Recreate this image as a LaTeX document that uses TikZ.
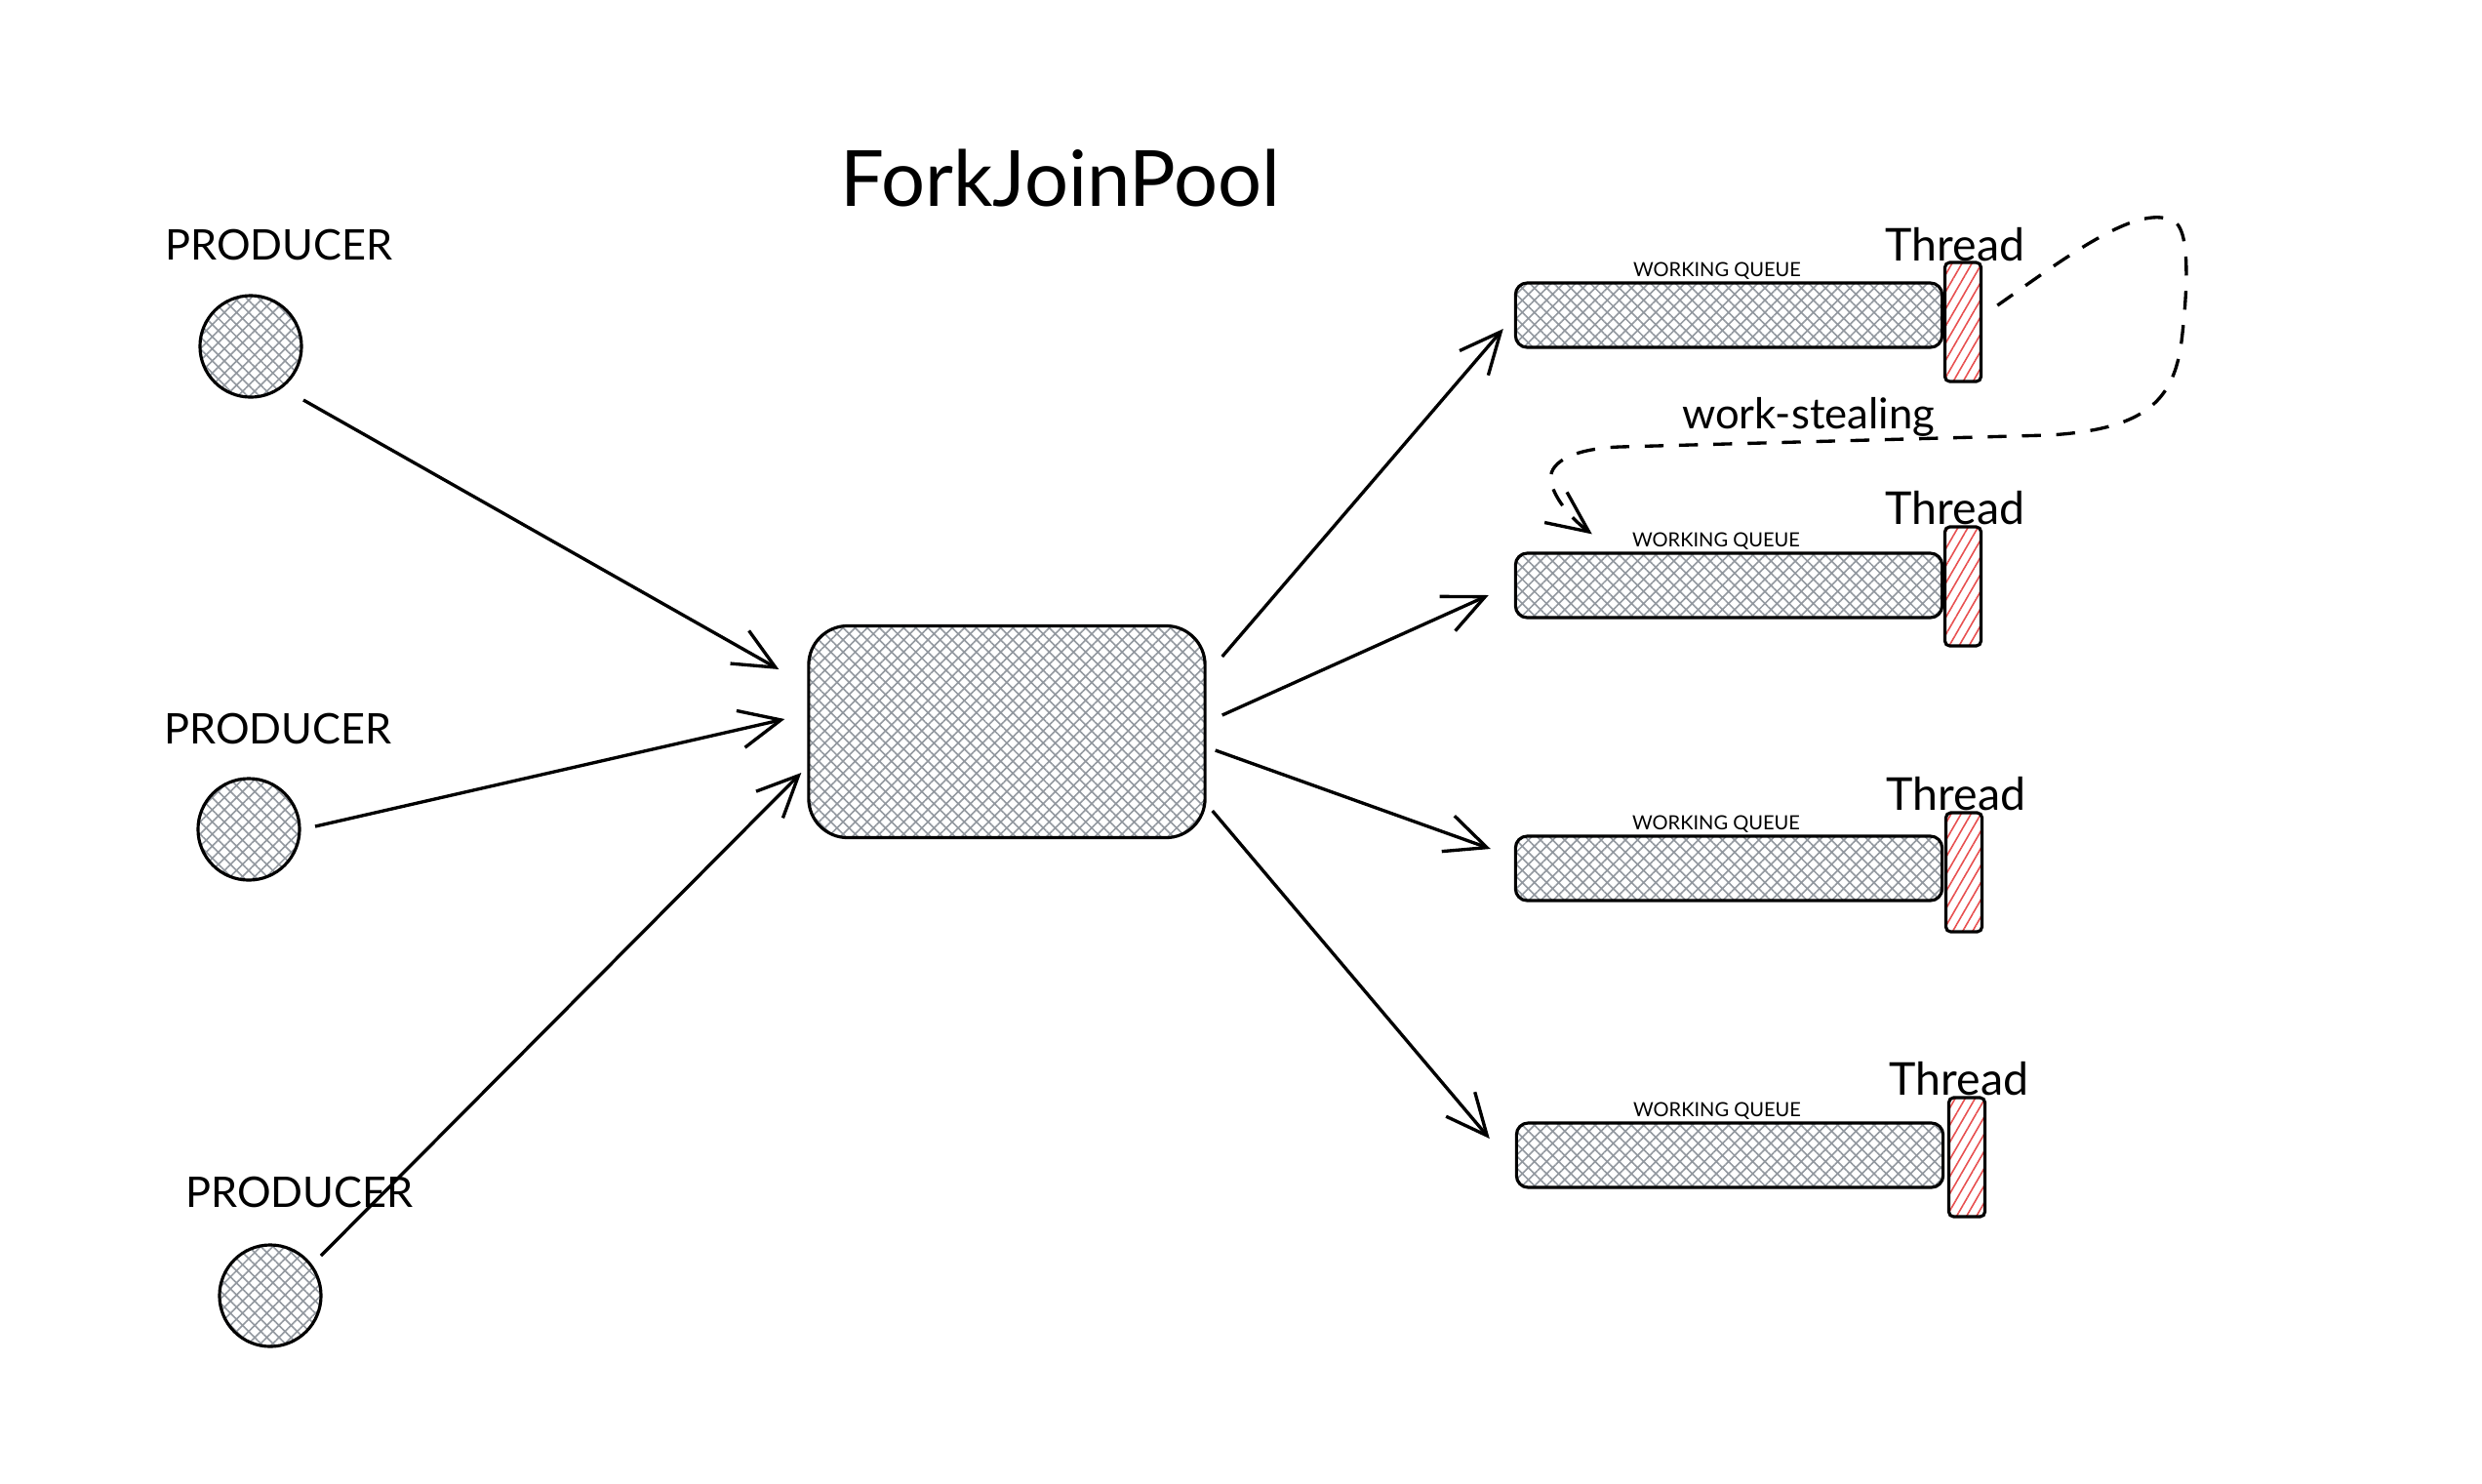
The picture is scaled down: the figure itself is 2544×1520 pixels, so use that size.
\documentclass[tikz,border=0pt]{standalone}
\usepackage{xcolor}
\usepackage{fontspec}
\setmainfont{Lato}
\usepackage{tikz}
\usetikzlibrary{arrows.meta,positioning,patterns.meta}

\definecolor{hatchgray}{RGB}{146,152,159}
\definecolor{threadred}{RGB}{232,80,80}

\tikzset{
    sketch/.style={draw=black, line width=0.9pt},
    gridfill/.style={pattern={Hatch[angle=45,distance=2.5pt,line width=0.45pt]}, pattern color=hatchgray},
    producer/.style={sketch, gridfill, circle, minimum size=1.04cm, inner sep=0pt},
    poolbox/.style={sketch, gridfill, rectangle, rounded corners=0.4cm, minimum width=4.06cm, minimum height=2.17cm},
    queuebox/.style={sketch, gridfill, rectangle, rounded corners=0.12cm, minimum width=4.37cm, minimum height=0.66cm, inner sep=0pt},
    threadbox/.style={sketch, pattern={Lines[angle=60,distance=2.5pt,line width=0.45pt]}, pattern color=threadred,
        rectangle, rounded corners=0.05cm, minimum width=0.37cm, minimum height=1.22cm, inner sep=0pt},
    arr/.style={-{Straight Barb[length=12pt,width=11pt]}, line width=0.95pt},
    steal/.style={arr, dash pattern=on 5.5pt off 4.5pt},
    titletext/.style={font=\fontsize{22.6}{26}\selectfont, inner sep=0pt},
    prodtext/.style={font=\fontsize{12.3}{14}\selectfont, inner sep=0pt},
    threadtext/.style={font=\fontsize{13.2}{15}\selectfont, inner sep=0pt},
    queuetext/.style={font=\fontsize{5.7}{7}\selectfont, inner sep=0pt},
    stealtext/.style={font=\fontsize{12.4}{14}\selectfont, inner sep=1pt}
}

\begin{document}
\begin{tikzpicture}[x=0.01cm, y=-0.01cm]
    \fill[white] (0,0) rectangle (2544,1520);

    % Title
    \node[titletext] (title) at (1087,183) {ForkJoinPool};

    % Producers
    \node[producer] (p1) at (257,355) {};
    \node[producer] (p2) at (255,850) {};
    \node[producer] (p3) at (277,1328) {};
    \node[prodtext, above=0.35cm of p1, xshift=0.29cm] (l1) {PRODUCER};
    \node[prodtext, above=0.33cm of p2, xshift=0.30cm] (l2) {PRODUCER};
    \node[prodtext, above=0.36cm of p3, xshift=0.30cm] (l3) {PRODUCER};

    % Pool
    \node[poolbox] (pool) at (1032,750) {};

    % Working queues
    \node[queuebox] (q1) at (1772,323) {};
    \node[queuebox] (q2) at (1772,600) {};
    \node[queuebox] (q3) at (1772,890) {};
    \node[queuebox] (q4) at (1773,1184) {};
    \node[queuetext, above=0.01cm of q1, xshift=-0.12cm] (ql1) {WORKING QUEUE};
    \node[queuetext, above=0.01cm of q2, xshift=-0.13cm] (ql2) {WORKING QUEUE};
    \node[queuetext, above=0.01cm of q3, xshift=-0.13cm] (ql3) {WORKING QUEUE};
    \node[queuetext, above=0.01cm of q4, xshift=-0.13cm] (ql4) {WORKING QUEUE};

    % Threads
    \node[threadbox] (t1) at (2012,330) {};
    \node[threadbox] (t2) at (2012,601) {};
    \node[threadbox] (t3) at (2013,894) {};
    \node[threadbox] (t4) at (2016,1186) {};
    \node[threadtext, above=0.0cm of t1, xshift=-0.08cm] (tl1) {Thread};
    \node[threadtext, above=0.0cm of t2, xshift=-0.08cm] (tl2) {Thread};
    \node[threadtext, above=0.0cm of t3, xshift=-0.08cm] (tl3) {Thread};
    \node[threadtext, above=0.0cm of t4, xshift=-0.08cm] (tl4) {Thread};

    % Producers to pool
    \draw[arr] ([shift={(54,55)}]p1.center) -- ([shift={(-29,-64)}]pool.west);
    \draw[arr] ([shift={(68,-3)}]p2.center) -- ([shift={(-23,-13)}]pool.west);
    \draw[arr] ([shift={(52,-41)}]p3.center) -- ([shift={(-6,42)}]pool.west);

    % Pool to queues
    \draw[arr] ([shift={(16,-77)}]pool.east) -- ([shift={(-11,14)}]q1.west);
    \draw[arr] ([shift={(16,-17)}]pool.east) -- ([shift={(-26,10)}]q2.west);
    \draw[arr] ([shift={(9,19)}]pool.east) -- ([shift={(-24,-20)}]q3.west);
    \draw[arr] ([shift={(6,81)}]pool.east) -- ([shift={(-26,-17)}]q4.west);

    % Work stealing
    \draw[steal] ([shift={(16,-17)}]t1.east)
        .. controls (2120,262) and (2195,205) .. (2230,228)
        .. controls (2245,240) and (2242,300) .. (2236,350)
        .. controls (2228,410) and (2200,440) .. (2100,446)
        -- node[stealtext, pos=0.56, above] (steal) {work-stealing} (1660,458)
        .. controls (1610,460) and (1585,475) .. (1590,495)
        .. controls (1595,515) and (1615,535) .. ([shift={(80,-18)}]q2.north west);
\end{tikzpicture}
\end{document}
